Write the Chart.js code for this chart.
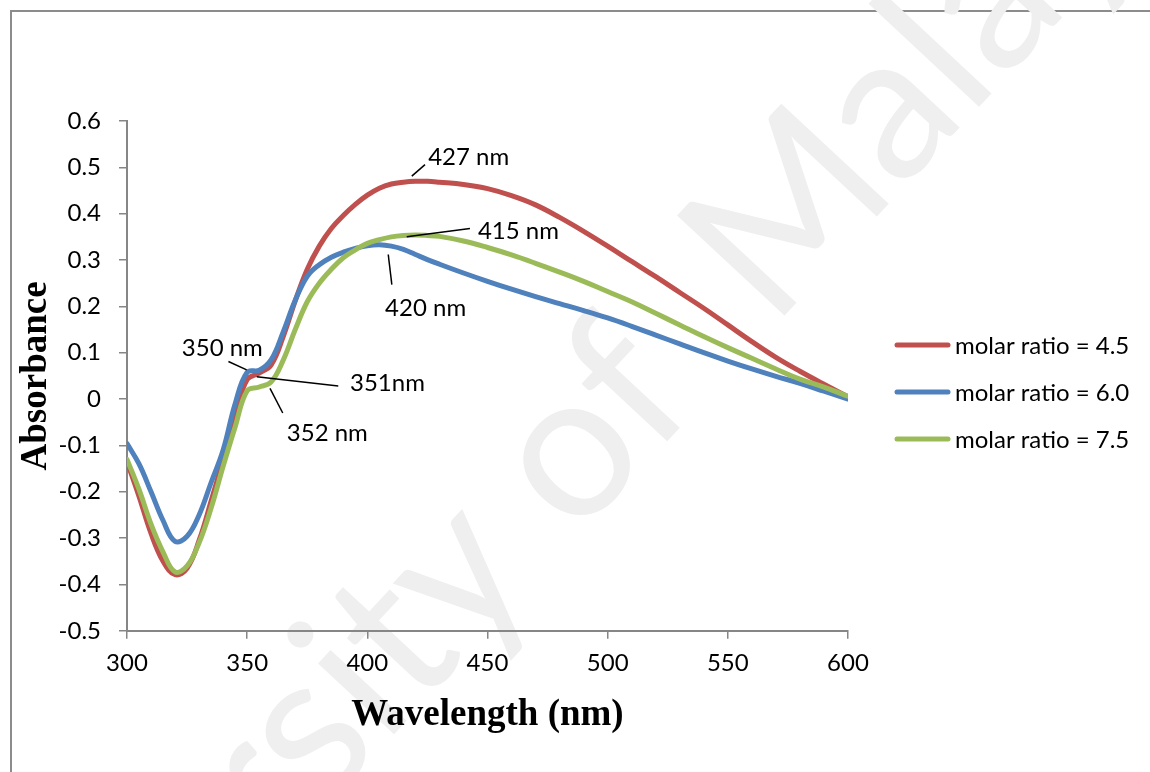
<!DOCTYPE html>
<html>
<head>
<meta charset="utf-8">
<script src="https://cdn.jsdelivr.net/npm/chart.js@4.4.1/dist/chart.umd.min.js"></script>
<style>
  html, body { margin: 0; padding: 0; background: #fff; }
  .frame { position: absolute; left: 10px; top: 10px; width: 1160px; height: 800px;
           border-left: 2px solid #8c8c8c; border-top: 2px solid #8c8c8c; }
  .wrap { position: absolute; left: 0; top: 0; width: 1150px; height: 772px; }
</style>
</head>
<body>
<div class="frame"></div>
<div class="wrap"><canvas id="chart"></canvas></div>
<script>
// wavelength (nm)
const wavelengths = [300, 305, 310, 315, 320, 325, 330, 335, 340, 345, 350, 355, 360, 365, 370, 375, 380, 385, 390, 395,
                     400, 405, 410, 415, 420, 425, 430, 440, 450, 460, 470, 480, 490, 500, 510, 520, 530, 540, 550, 560,
                     570, 580, 590, 600];

// absorbance for each molar ratio
const ratio45 = [-0.135, -0.21, -0.29, -0.35, -0.379, -0.365, -0.305, -0.22, -0.13, -0.035, 0.042, 0.056, 0.074, 0.135, 0.212, 0.28, 0.33, 0.368, 0.396, 0.42,
                 0.44, 0.455, 0.464, 0.468, 0.47, 0.47, 0.468, 0.463, 0.454, 0.439, 0.419, 0.392, 0.362, 0.330, 0.297, 0.264, 0.230, 0.196, 0.160, 0.124,
                 0.090, 0.060, 0.032, 0.005];
const ratio60 = [-0.096, -0.14, -0.20, -0.262, -0.307, -0.296, -0.25, -0.18, -0.11, -0.01, 0.058, 0.062, 0.085, 0.145, 0.213, 0.265, 0.29, 0.306, 0.317, 0.325,
                 0.331, 0.333, 0.330, 0.323, 0.312, 0.301, 0.291, 0.272, 0.254, 0.237, 0.221, 0.206, 0.191, 0.175, 0.157, 0.138, 0.119, 0.100, 0.082, 0.065,
                 0.049, 0.034, 0.017, 0.0];
const ratio75 = [-0.13, -0.195, -0.27, -0.33, -0.373, -0.36, -0.31, -0.235, -0.145, -0.06, 0.018, 0.026, 0.037, 0.084, 0.15, 0.21, 0.25, 0.28, 0.305, 0.322,
                 0.336, 0.344, 0.35, 0.353, 0.354, 0.353, 0.351, 0.341, 0.327, 0.311, 0.293, 0.274, 0.254, 0.232, 0.21, 0.185, 0.16, 0.135, 0.111, 0.088,
                 0.065, 0.043, 0.026, 0.006];

const seriesLabels = ['molar ratio = 4.5', 'molar ratio = 6.0', 'molar ratio = 7.5'];
const seriesColors = ['#C0504D', '#4F81BD', '#9BBB59'];

// peak labels: text, leader line from (x1,y1) to (x2,y2), text anchored at (tx,ty) - all in data units
const peakLabels = [
  { text: '427 nm', x1: 418.5, y1: 0.481, x2: 424, y2: 0.506, tx: 425.3, ty: 0.522 },
  { text: '415 nm', x1: 416.4, y1: 0.35, x2: 442.7, y2: 0.368, tx: 446, ty: 0.362 },
  { text: '420 nm', x1: 408.7, y1: 0.312, x2: 410.2, y2: 0.247, tx: 407.4, ty: 0.195 },
  { text: '350 nm', x1: 342.2, y1: 0.081, x2: 349.8, y2: 0.063, tx: 322.8, ty: 0.110 },
  { text: '351nm', x1: 354, y1: 0.048, x2: 387.9, y2: 0.028, tx: 392.8, ty: 0.034 },
  { text: '352 nm', x1: 359.5, y1: 0.023, x2: 364.8, y2: -0.030, tx: 366.5, ty: -0.074 }
];

const labelFont = 'Lato';
const legendX = 895, legendY = 345, legendStep = 47, legendLine = 55;

function points(values) {
  return wavelengths.map((w, i) => ({ x: w, y: values[i] }));
}

const peakLabelPlugin = {
  id: 'peakLabels',
  afterDatasetsDraw(chart) {
    const ctx = chart.ctx;
    const xs = chart.scales.x;
    const ys = chart.scales.y;
    ctx.save();
    ctx.strokeStyle = '#000';
    ctx.lineWidth = 1.5;
    ctx.fillStyle = '#000';
    ctx.font = '24px ' + labelFont;
    ctx.textAlign = 'left';
    ctx.textBaseline = 'middle';
    peakLabels.forEach(p => {
      ctx.beginPath();
      ctx.moveTo(xs.getPixelForValue(p.x1), ys.getPixelForValue(p.y1));
      ctx.lineTo(xs.getPixelForValue(p.x2), ys.getPixelForValue(p.y2));
      ctx.stroke();
      ctx.fillText(p.text, xs.getPixelForValue(p.tx), ys.getPixelForValue(p.ty));
    });
    ctx.restore();
  }
};

// legend sits further from the plot than chart.js allows, so draw it here
const sideLegendPlugin = {
  id: 'sideLegend',
  afterDraw(chart) {
    const ctx = chart.ctx;
    ctx.save();
    ctx.font = '24px ' + labelFont;
    ctx.textAlign = 'left';
    ctx.textBaseline = 'middle';
    chart.data.datasets.forEach((ds, i) => {
      const y = legendY + i * legendStep;
      ctx.strokeStyle = ds.borderColor;
      ctx.lineWidth = 5;
      ctx.lineCap = 'round';
      ctx.beginPath();
      ctx.moveTo(legendX + 2, y);
      ctx.lineTo(legendX + legendLine - 2, y);
      ctx.stroke();
      ctx.fillStyle = '#000';
      ctx.fillText(ds.label, legendX + legendLine + 5, y + 1);
    });
    ctx.restore();
  }
};

// faint repository watermark behind the chart
const watermarkPlugin = {
  id: 'watermark',
  beforeDraw(chart) {
    const ctx = chart.ctx;
    ctx.save();
    ctx.translate(575, 540);
    ctx.rotate(-47 * Math.PI / 180);
    ctx.fillStyle = '#efefef';
    ctx.font = '205px ' + labelFont;
    ctx.textAlign = 'left';
    ctx.textBaseline = 'alphabetic';
    const lead = ctx.measureText('University ').width;
    ctx.fillText('University of\u2002Malaya', -lead, 0);
    ctx.restore();
  }
};

const datasets = [ratio45, ratio60, ratio75].map((vals, i) => ({
  label: seriesLabels[i],
  data: points(vals),
  borderColor: seriesColors[i],
  backgroundColor: seriesColors[i],
  borderWidth: 5,
  borderCapStyle: 'round',
  borderJoinStyle: 'round',
  pointRadius: 0,
  fill: false,
  tension: 0.4,
  order: 3 - i
}));

const ctx = document.getElementById('chart');
new Chart(ctx, {
  type: 'line',
  data: { datasets: datasets },
  options: {
    responsive: true,
    maintainAspectRatio: false,
    animation: false,
    layout: { padding: { top: 121, bottom: 34, left: 14, right: 302 } },
    plugins: {
      tooltip: { enabled: false },
      legend: { display: false }
    },
    scales: {
      x: {
        type: 'linear',
        min: 300,
        max: 600,
        ticks: { stepSize: 50, color: '#000', padding: 10, font: { family: labelFont, size: 24 } },
        grid: { drawOnChartArea: false, drawTicks: true, tickLength: 8, color: '#868686', lineWidth: 1.5 },
        border: { color: '#868686', width: 2 },
        title: {
          display: true,
          text: 'Wavelength (nm)',
          color: '#000',
          padding: { top: 6, bottom: 0 },
          font: { family: 'Liberation Serif', size: 37, weight: 'bold' }
        }
      },
      y: {
        min: -0.5,
        max: 0.6,
        afterFit: scale => { scale.width = 113; },
        ticks: {
          stepSize: 0.1,
          color: '#000',
          padding: 18,
          font: { family: labelFont, size: 24 },
          callback: v => String(Math.round(v * 10) / 10)
        },
        grid: { drawOnChartArea: false, drawTicks: true, tickLength: 8, color: '#868686', lineWidth: 1.5 },
        border: { color: '#868686', width: 2 },
        title: {
          display: true,
          text: 'Absorbance',
          color: '#000',
          padding: { top: 0, bottom: 4 },
          font: { family: 'Liberation Serif', size: 37, weight: 'bold' }
        }
      }
    }
  },
  plugins: [watermarkPlugin, peakLabelPlugin, sideLegendPlugin]
});
</script>
</body>
</html>
